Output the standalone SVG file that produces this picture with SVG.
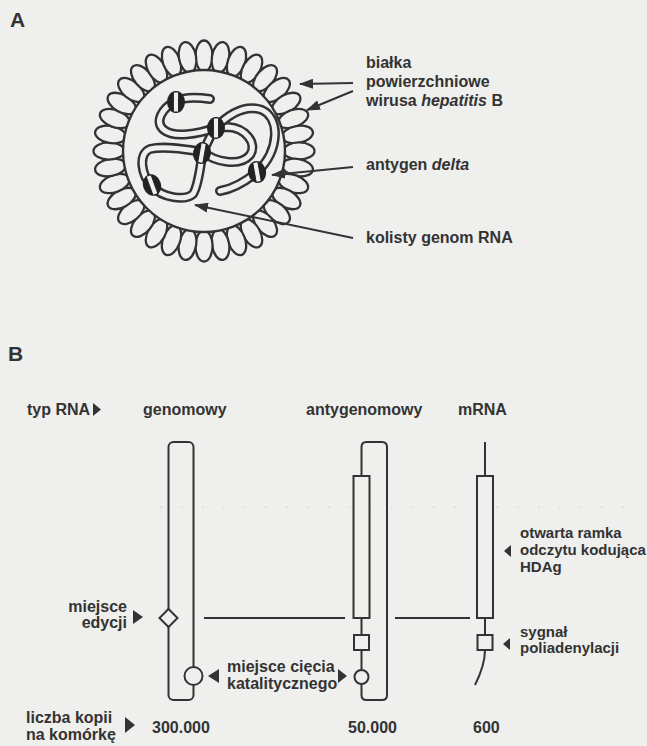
<svg xmlns="http://www.w3.org/2000/svg" xmlns:xlink="http://www.w3.org/1999/xlink" width="647" height="746" viewBox="0 0 647 746">
  <defs>
    <style>
      .bg { fill: #efefed; }
      .ln { fill: none; stroke: #333; stroke-width: 2; }
      .shp { fill: #efefed; stroke: #333; stroke-width: 2; }
      .petal { fill: #efefed; stroke: #333; stroke-width: 2.3; }
      .tube-o { fill: none; stroke: #333; stroke-width: 10; stroke-linecap: round; stroke-linejoin: round; }
      .tube-i { fill: none; stroke: #efefed; stroke-width: 5; stroke-linecap: round; stroke-linejoin: round; }
      .tri { fill: #333; }
      text { font-family: "Liberation Sans", Arial, sans-serif; font-weight: bold; fill: #333; font-size: 16px; }
      .big { font-size: 21px; }
      .sm { font-size: 15px; }
      .it { font-style: italic; }
      .end { text-anchor: end; }
    </style>
    <ellipse id="petal" class="petal" cx="204" cy="56" rx="8.6" ry="15.5"/>
    <marker id="ah" viewBox="0 0 14 10" refX="13" refY="5" markerWidth="14" markerHeight="10" markerUnits="userSpaceOnUse" orient="auto">
      <path d="M0,0 L14,5 L0,10 Z" fill="#333"/>
    </marker>
    <g id="bead">
      <ellipse cx="0" cy="0" rx="9" ry="11" fill="#222"/>
      <rect x="-2.6" y="-10" width="5.2" height="20" rx="1" fill="#efefed" stroke="#222" stroke-width="1"/>
    </g>
  </defs>

  <rect class="bg" x="0" y="0" width="647" height="746"/>

  <!-- faint dotted line -->
  <line x1="160" y1="507" x2="640" y2="507" stroke="#d6d6d4" stroke-width="1.5" stroke-dasharray="1.5 19.5"/>

  <text class="big" x="10" y="27">A</text>
  <text class="big" x="8" y="361">B</text>

  <!-- Part A: virus particle -->
  <g id="virus">
    <g id="envelope">
      <use xlink:href="#petal" transform="rotate(0 204 151)"/>
      <use xlink:href="#petal" transform="rotate(10 204 151)"/>
      <use xlink:href="#petal" transform="rotate(20 204 151)"/>
      <use xlink:href="#petal" transform="rotate(30 204 151)"/>
      <use xlink:href="#petal" transform="rotate(40 204 151)"/>
      <use xlink:href="#petal" transform="rotate(50 204 151)"/>
      <use xlink:href="#petal" transform="rotate(60 204 151)"/>
      <use xlink:href="#petal" transform="rotate(70 204 151)"/>
      <use xlink:href="#petal" transform="rotate(80 204 151)"/>
      <use xlink:href="#petal" transform="rotate(90 204 151)"/>
      <use xlink:href="#petal" transform="rotate(100 204 151)"/>
      <use xlink:href="#petal" transform="rotate(110 204 151)"/>
      <use xlink:href="#petal" transform="rotate(120 204 151)"/>
      <use xlink:href="#petal" transform="rotate(130 204 151)"/>
      <use xlink:href="#petal" transform="rotate(140 204 151)"/>
      <use xlink:href="#petal" transform="rotate(150 204 151)"/>
      <use xlink:href="#petal" transform="rotate(160 204 151)"/>
      <use xlink:href="#petal" transform="rotate(170 204 151)"/>
      <use xlink:href="#petal" transform="rotate(180 204 151)"/>
      <use xlink:href="#petal" transform="rotate(190 204 151)"/>
      <use xlink:href="#petal" transform="rotate(200 204 151)"/>
      <use xlink:href="#petal" transform="rotate(210 204 151)"/>
      <use xlink:href="#petal" transform="rotate(220 204 151)"/>
      <use xlink:href="#petal" transform="rotate(230 204 151)"/>
      <use xlink:href="#petal" transform="rotate(240 204 151)"/>
      <use xlink:href="#petal" transform="rotate(250 204 151)"/>
      <use xlink:href="#petal" transform="rotate(260 204 151)"/>
      <use xlink:href="#petal" transform="rotate(270 204 151)"/>
      <use xlink:href="#petal" transform="rotate(280 204 151)"/>
      <use xlink:href="#petal" transform="rotate(290 204 151)"/>
      <use xlink:href="#petal" transform="rotate(300 204 151)"/>
      <use xlink:href="#petal" transform="rotate(310 204 151)"/>
      <use xlink:href="#petal" transform="rotate(320 204 151)"/>
      <use xlink:href="#petal" transform="rotate(330 204 151)"/>
      <use xlink:href="#petal" transform="rotate(340 204 151)"/>
      <use xlink:href="#petal" transform="rotate(350 204 151)"/>
      <circle cx="204" cy="151" r="81" fill="#efefed" stroke="#333" stroke-width="2.4"/>
    </g>
    <g id="genome">
      <path class="tube-o" d="M215,128 C210,136 207,144 203,152 C190,150 165,145 150,149 C138,154 141,175 152,186 C162,198 185,201 193,194 C199,185 200,165 203,152 C215,162 240,167 250,155 C258,143 245,128 228,127 C222,127 218,128 215,128"/>
      <path class="tube-i" d="M215,128 C210,136 207,144 203,152 C190,150 165,145 150,149 C138,154 141,175 152,186 C162,198 185,201 193,194 C199,185 200,165 203,152 C215,162 240,167 250,155 C258,143 245,128 228,127 C222,127 218,128 215,128"/>
      <path class="tube-o" d="M210,99 C196,97 184,97 176,101 C162,108 154,122 164,130 C174,138 198,134 215,128 C228,115 245,104 262,110 C280,118 280,150 257,172 C245,182 232,189 220,191"/>
      <path class="tube-i" d="M210,99 C196,97 184,97 176,101 C162,108 154,122 164,130 C174,138 198,134 215,128 C228,115 245,104 262,110 C280,118 280,150 257,172 C245,182 232,189 220,191"/>
    </g>
    <g id="delta-antigen">
      <use xlink:href="#bead" transform="translate(176,102)"/>
      <use xlink:href="#bead" transform="translate(216,128)"/>
      <use xlink:href="#bead" transform="translate(202,153) rotate(10)"/>
      <use xlink:href="#bead" transform="translate(152,185) rotate(-20)"/>
      <use xlink:href="#bead" transform="translate(257,172) rotate(-10)"/>
    </g>
  </g>

  <g id="labels-a">
    <text x="366" y="68">białka</text>
    <text x="366" y="87">powierzchniowe</text>
    <text x="366" y="106">wirusa <tspan class="it">hepatitis</tspan> B</text>
    <text x="366" y="170">antygen <tspan class="it">delta</tspan></text>
    <text x="366" y="243">kolisty genom RNA</text>
  </g>

  <g id="connectors-a" class="ln">
    <line x1="353" y1="83" x2="300" y2="84" marker-end="url(#ah)"/>
    <line x1="353" y1="91" x2="307" y2="110" marker-end="url(#ah)"/>
    <line x1="353" y1="167" x2="272" y2="175" marker-end="url(#ah)"/>
    <line x1="353" y1="238" x2="195" y2="205" marker-end="url(#ah)"/>
  </g>

  <!-- Part B: RNA forms -->
  <g id="header">
    <text x="27" y="415">typ RNA</text>
    <path class="tri" d="M93,403 L101,409.5 L93,416 Z"/>
    <text x="143" y="415">genomowy</text>
    <text x="306" y="415">antygenomowy</text>
    <text x="458" y="415">mRNA</text>
  </g>

  <g id="genomic">
    <rect class="ln" x="168.5" y="442" width="25" height="258" rx="5"/>
    <path class="shp" d="M168.5,609 L177.5,618 L168.5,627 L159.5,618 Z"/>
    <circle class="shp" cx="193.5" cy="676" r="9"/>
  </g>

  <g id="antigenomic">
    <path class="ln" d="M361.5,476 V447 Q361.5,442 366.5,442 H382 Q387,442 387,447 V695 Q387,700 382,700 H366.5 Q361.5,700 361.5,695 V684"/>
    <rect class="shp" x="353.5" y="476" width="16" height="142"/>
    <line class="ln" x1="361.5" y1="618" x2="361.5" y2="635"/>
    <rect class="shp" x="354" y="635" width="15" height="15"/>
    <line class="ln" x1="361.5" y1="650" x2="361.5" y2="670"/>
    <circle class="shp" cx="361.5" cy="677" r="7"/>
  </g>

  <g id="mrna">
    <line class="ln" x1="485" y1="442" x2="485" y2="476"/>
    <rect class="shp" x="477" y="476" width="16" height="142"/>
    <line class="ln" x1="485" y1="618" x2="485" y2="635"/>
    <rect class="shp" x="477.5" y="635" width="15" height="15"/>
    <path class="ln" d="M485,650 C485,662 481,673 475,685"/>
  </g>

  <g id="connectors-b" class="ln">
    <line x1="204" y1="618" x2="345" y2="618"/>
    <line x1="395" y1="618" x2="470" y2="618"/>
  </g>

  <g id="labels-b">
    <text class="end" x="127" y="612">miejsce</text>
    <text class="end" x="127" y="628">edycji</text>
    <path class="tri" d="M133,610 L143,617 L133,624 Z"/>

    <path class="tri" d="M208,676 L219,669 L219,683 Z"/>
    <text x="227" y="672">miejsce cięcia</text>
    <text x="227" y="689">katalitycznego</text>
    <path class="tri" d="M338,669 L347,676 L338,683 Z"/>

    <text class="sm" x="520" y="538">otwarta ramka</text>
    <text class="sm" x="520" y="555">odczytu kodująca</text>
    <text class="sm" x="520" y="572">HDAg</text>
    <path class="tri" d="M504,551 L511,545 L511,557 Z"/>

    <text class="sm" x="520" y="637">sygnał</text>
    <text class="sm" x="520" y="653">poliadenylacji</text>
    <path class="tri" d="M503,644 L510,638 L510,650 Z"/>

    <text x="26" y="723">liczba kopii</text>
    <text x="26" y="740">na komórkę</text>
    <path class="tri" d="M125,717 L135,725 L125,733 Z"/>
    <text x="152" y="733">300.000</text>
    <text x="348" y="733">50.000</text>
    <text x="473" y="733">600</text>
  </g>
</svg>
